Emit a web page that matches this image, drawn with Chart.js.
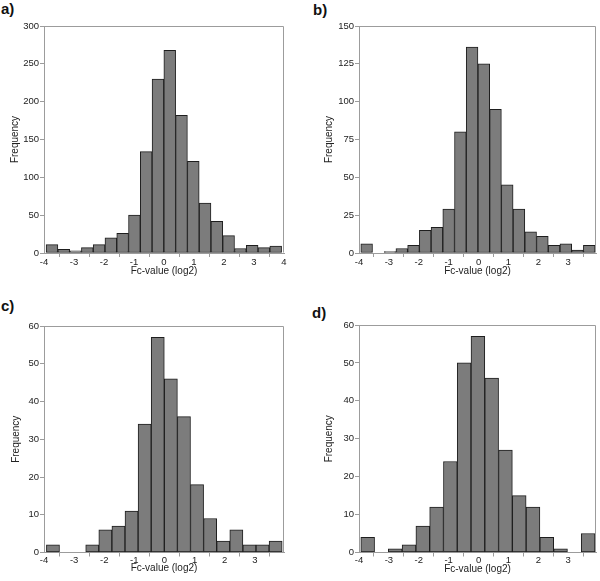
<!DOCTYPE html>
<html>
<head>
<meta charset="utf-8">
<script src="https://cdn.jsdelivr.net/npm/chart.js@4.4.1/dist/chart.umd.min.js"></script>
<style>
  body { margin: 0; background: #fff; width: 600px; height: 581px; position: relative; overflow: hidden; }
  canvas { position: absolute; }
  .panel-label { position: absolute; font: bold 15px/1 "Liberation Sans", Arial, sans-serif; color: #111; }
</style>
</head>
<body>
<div class="panel-label" style="left:1px;top:1px">a)</div>
<div class="panel-label" style="left:313px;top:2px">b)</div>
<div class="panel-label" style="left:1px;top:298px">c)</div>
<div class="panel-label" style="left:312px;top:305px">d)</div>

<canvas id="chartA" width="300" height="290" style="left:0;top:0"></canvas>
<canvas id="chartB" width="300" height="290" style="left:300px;top:0"></canvas>
<canvas id="chartC" width="300" height="291" style="left:0;top:290px"></canvas>
<canvas id="chartD" width="300" height="291" style="left:300px;top:290px"></canvas>

<script>
// Histogram counts per bin
const countsA = [11, 5, 3, 7, 11, 20, 26, 50, 134, 230, 268, 182, 121, 66, 42, 23, 6, 10, 7, 9];
const countsB = [6, 0, 1, 3, 5, 15, 17, 29, 80, 136, 125, 95, 45, 29, 14, 11, 5, 6, 2, 5];
const countsC = [2, 0, 0, 2, 6, 7, 11, 34, 57, 46, 36, 18, 9, 3, 6, 2, 2, 3];
const countsD = [4, 0, 1, 2, 7, 12, 24, 50, 57, 46, 27, 15, 12, 4, 1, 0, 5];

// Bin edges: first lower edge and bin width (log2 units)
const binStartA = -3.93, binWidthA = 0.3925;
const binStartB = -3.94, binWidthB = 0.392;
const binStartC = -3.92, binWidthC = 0.435;
const binStartD = -3.94, binWidthD = 0.461;

// Axis ranges
const xMaxA = 4, xMaxB = 3.93, xMaxC = 3.97, xMaxD = 3.93;
const yMaxA = 300, yStepA = 50;
const yMaxB = 150, yStepB = 25;
const yMaxC = 60, yStepC = 10;
const yMaxD = 60, yStepD = 10;

const xTitle = "Fc-value (log2)";
const yTitle = "Frequency";

const FONT = '"Liberation Sans", Arial, sans-serif';
const AXIS_GRAY = "#9c9c9c";
const TEXT = "#222";

// draws the gray top and right edges of the plot box
const framePlugin = {
  id: "frame",
  afterDraw(chart) {
    const { ctx, chartArea: a } = chart;
    const l = Math.round(a.left) + 0.5, r = Math.round(a.right) - 0.5;
    const t = Math.round(a.top) + 0.5, b = Math.round(a.bottom) - 0.5;
    ctx.save();
    ctx.strokeStyle = AXIS_GRAY;
    ctx.lineWidth = 1;
    ctx.beginPath();
    ctx.moveTo(l, t);
    ctx.lineTo(r, t);
    ctx.lineTo(r, b);
    ctx.stroke();
    ctx.restore();
  },
};

function makeHistogram(id, counts, binStart, binWidth, xMax, yMax, yStep, box) {
  const canvas = document.getElementById(id);
  const points = counts.map((c, i) => ({ x: binStart + binWidth * (i + 0.5), y: c }));

  const yAxisWidth = box.left - box.cx;
  const xAxisHeight = box.cy + box.h - box.bottom;

  return new Chart(canvas.getContext("2d"), {
    type: "bar",
    data: {
      datasets: [{
        data: points,
        backgroundColor: "#7c7c7c",
        borderColor: "#1e1e1e",
        borderWidth: 1,
        borderSkipped: false,
        barPercentage: 1,
        categoryPercentage: 1,
      }],
    },
    options: {
      responsive: false,
      animation: false,
      events: [],
      layout: {
        padding: { left: 0, top: box.top - box.cy, right: box.cx + box.w - box.right, bottom: 0 },
      },
      plugins: { legend: { display: false }, tooltip: { enabled: false } },
      scales: {
        x: {
          type: "linear",
          min: -4,
          max: xMax,
          offset: false,
          afterBuildTicks: (s) => {
            s.ticks = s.ticks.filter((t) => Math.abs(t.value - Math.round(t.value)) < 1e-6);
          },
          afterFit: (s) => { s.height = xAxisHeight; },
          ticks: {
            stepSize: 1,
            includeBounds: false,
            autoSkip: false,
            maxRotation: 0,
            padding: box.tickPad,
            color: TEXT,
            font: { family: FONT, size: 9.5 },
            callback: (v) => String(Math.round(v)),
          },
          grid: { drawOnChartArea: false, drawTicks: true, tickLength: 4, color: AXIS_GRAY },
          border: { display: true, color: AXIS_GRAY, width: 1 },
          title: {
            display: true,
            text: xTitle,
            color: TEXT,
            font: { family: FONT, size: 10 },
            padding: { top: 0, bottom: box.cy + box.h - box.xTitleY - 6 },
          },
        },
        y: {
          min: 0,
          max: yMax,
          afterFit: (s) => { s.width = yAxisWidth; },
          ticks: {
            stepSize: yStep,
            padding: 1,
            color: TEXT,
            font: { family: FONT, size: 9.5 },
          },
          grid: { drawOnChartArea: false, drawTicks: true, tickLength: 4, color: AXIS_GRAY },
          border: { display: true, color: AXIS_GRAY, width: 1 },
          title: {
            display: true,
            text: yTitle,
            color: TEXT,
            font: { family: FONT, size: 10 },
            padding: { top: box.yTitleX - box.cx - 6, bottom: 0 },
          },
        },
      },
    },
    plugins: [framePlugin],
  });
}

makeHistogram("chartA", countsA, binStartA, binWidthA, xMaxA, yMaxA, yStepA,
  { cx: 0, cy: 0, w: 300, h: 290, left: 44, right: 284, top: 26, bottom: 253, yTitleX: 15.5, xTitleY: 271.5, tickPad: -0.5 });
makeHistogram("chartB", countsB, binStartB, binWidthB, xMaxB, yMaxB, yStepB,
  { cx: 300, cy: 0, w: 300, h: 290, left: 359, right: 596, top: 26, bottom: 253, yTitleX: 329, xTitleY: 271, tickPad: -0.5 });
makeHistogram("chartC", countsC, binStartC, binWidthC, xMaxC, yMaxC, yStepC,
  { cx: 0, cy: 290, w: 300, h: 291, left: 44, right: 284, top: 326, bottom: 552.5, yTitleX: 16, xTitleY: 568.5, tickPad: -1.5 });
makeHistogram("chartD", countsD, binStartD, binWidthD, xMaxD, yMaxD, yStepD,
  { cx: 300, cy: 290, w: 300, h: 291, left: 359, right: 596, top: 325, bottom: 552.5, yTitleX: 329, xTitleY: 569.5, tickPad: -1.5 });
</script>
</body>
</html>
